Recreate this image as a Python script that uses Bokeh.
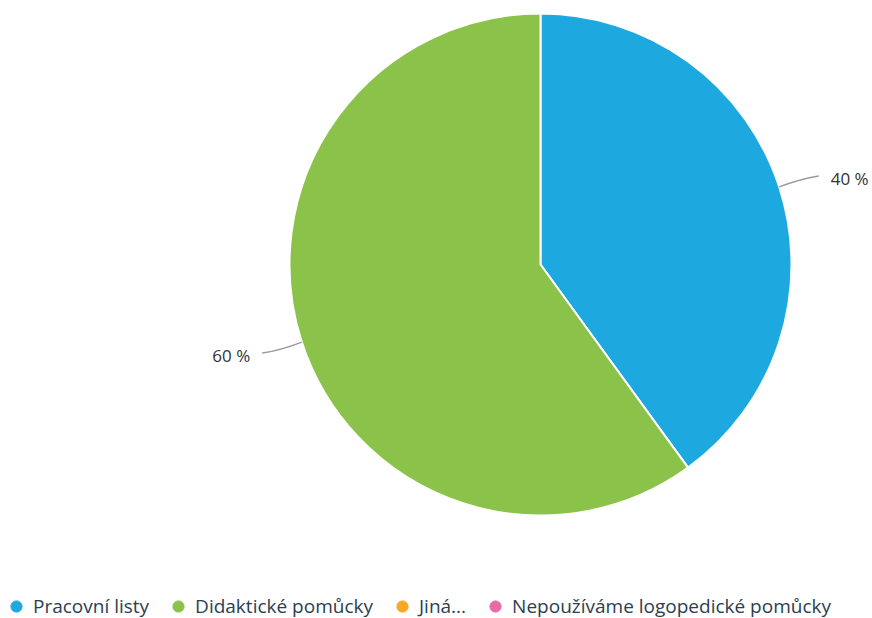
import numpy as np
from bokeh.plotting import figure
from bokeh.models import Range1d, Legend, LegendItem, ColumnDataSource
from bokeh.core.properties import value
from bokeh.embed import file_html
from bokeh.resources import INLINE

categories = ["Pracovní listy", "Didaktické pomůcky", "Jiná...", "Nepoužíváme logopedické pomůcky"]
percents = [40, 60, 0, 0]
colors = ["#1ea8e0", "#8bc34a", "#f9a825", "#e86aa6"]

W, H = 872, 618
p = figure(width=W, height=H, x_range=Range1d(0, W), y_range=Range1d(0, H),
           output_backend="svg", toolbar_location=None, min_border=0,
           outline_line_color=None)
p.axis.visible = False
p.grid.visible = False

cx, cy, r = 540, H - 264, 251
frac = np.array(percents, dtype=float) / sum(percents)
ends = np.cumsum(frac)
starts = ends - frac
start_ang = np.pi / 2 - 2 * np.pi * starts
end_ang = np.pi / 2 - 2 * np.pi * ends

mask = frac > 0
src = ColumnDataSource(dict(x=[cx] * int(mask.sum()), y=[cy] * int(mask.sum()),
                            s=list(start_ang[mask]), e=list(end_ang[mask]),
                            c=[c for c, m in zip(colors, mask) if m]))
p.wedge(x="x", y="y", radius=r, start_angle="s", end_angle="e", direction="clock",
        fill_color="c", line_color="white", line_width=2, source=src)

# labels with leader lines
for f, s, e in zip(frac, start_ang, end_ang):
    if f <= 0:
        continue
    mid = (s + e) / 2
    side = 1 if np.cos(mid) >= 0 else -1
    x0, y0 = cx + r * np.cos(mid), cy + r * np.sin(mid)
    a_end = mid - 0.006
    x2, y2 = cx + (r + 41) * np.cos(a_end), cy + (r + 41) * np.sin(a_end)
    xc, yc = cx + (r + 20) * np.cos(mid), cy + (r + 20) * np.sin(mid)
    xc += side * 2
    yc += 2 * np.sign(np.sin(mid))
    p.quadratic(x0=[x0], y0=[y0], x1=[x2], y1=[y2], cx=[xc], cy=[yc],
                line_color="#9a9a9a", line_width=1.4)
    p.text(x=[x2 + side * 12], y=[y2 - 2.5], text=[f"{round(f * 100)} %"],
           text_align="left" if side > 0 else "right", text_baseline="middle",
           text_font=value("Open Sans"), text_font_size="17px", text_color="#333333")

# legend
items = []
for cat, col in zip(categories, colors):
    rr = p.scatter(x=[np.nan], y=[np.nan], marker="circle", size=11,
                   fill_color=col, line_color=col)
    items.append(LegendItem(label=cat, renderers=[rr]))
leg = Legend(items=items, orientation="horizontal", location=(2, -2),
             glyph_width=28, glyph_height=28, label_height=19, label_standoff=3,
             spacing=15, padding=0, margin=0, border_line_color=None,
             background_fill_alpha=0, label_text_font="Open Sans",
             label_text_font_size="19px", label_text_color="#2c3e50",
             label_text_baseline="middle")
p.add_layout(leg)

open("out.html", "w").write(file_html(p, INLINE))
